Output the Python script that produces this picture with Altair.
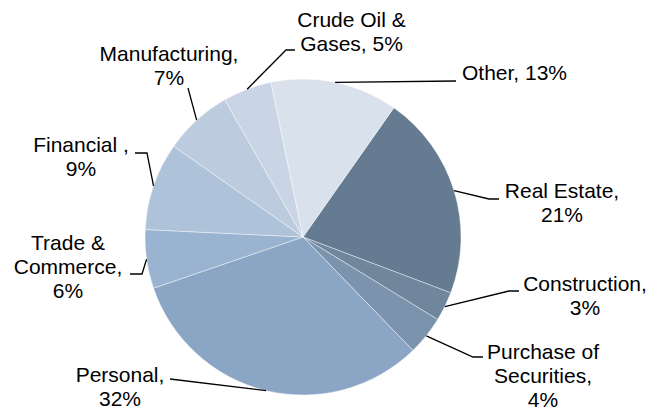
import math
import altair as alt
import pandas as pd

# ---- data ----
categories = ["Real Estate", "Construction", "Purchase of Securities", "Personal",
              "Trade & Commerce", "Financial", "Manufacturing", "Crude Oil & Gases", "Other"]
shares = [21, 3, 4, 32, 6, 9, 7, 5, 13]
label_texts = ["Real Estate,\n21%", "Construction,\n3%", "Purchase of\nSecurities,\n4%",
               "Personal,\n32%", "Trade &\nCommerce,\n6%", "Financial ,\n9%",
               "Manufacturing,\n7%", "Crude Oil &\nGases, 5%", "Other, 13%"]
colors = ["#657B91", "#6F869D", "#7C93AD", "#8BA6C5", "#99B3D1",
          "#AEC2DA", "#BCCBDD", "#C9D5E5", "#D9E1EC"]

# ---- layout (page pixels; y = first text line) ----
W, H = 640, 404
M = 8
CX, CY = 303 - M, 237 - M
R = 158
START_DEG = 35.1
label_pos = [(562, 191.5), (585, 285), (543, 353), (120, 376), (68, 244),
             (81, 146), (169, 54.5), (351.5, 20.5), (514.5, 74)]
leader_pts = [
    [(489, 199), (499, 199)],
    [(509, 291), (519, 291)],
    [(473, 357), (483, 357)],
    [(170, 379)],
    [(142, 274), (130, 274)],
    [(147, 153), (135, 153)],
    [(188, 88)],
    [(286, 50), (295, 50)],
    [(456, 81)],
]

df = pd.DataFrame({"cat": categories, "share": shares, "idx": range(len(categories))})

total = sum(shares)
rows = []
cum = 0
for i, (c, v) in enumerate(zip(categories, shares)):
    mid = math.radians(START_DEG + (cum + v / 2) / total * 360)
    cum += v
    ex, ey = CX + R * math.sin(mid), CY - R * math.cos(mid)
    rows.append({"cat": c, "seq": 0, "px": ex, "py": ey})
    for k, (x, y) in enumerate(leader_pts[i]):
        rows.append({"cat": c, "seq": k + 1, "px": x - M, "py": y - M})
lines_df = pd.DataFrame(rows)

labels_df = pd.DataFrame({
    "cat": categories,
    "txt": label_texts,
    "px": [p[0] - M for p in label_pos],
    "py": [p[1] - M for p in label_pos],
})

xs = alt.Scale(domain=[0, W], range=[0, W], zero=False, nice=False)
ys = alt.Scale(domain=[0, H], range=[0, H], zero=False, nice=False)

a0 = math.radians(START_DEG)
arcs = alt.Chart(df).mark_arc(outerRadius=R, stroke="white", strokeWidth=0.6, strokeOpacity=0.7).encode(
    theta=alt.Theta("share:Q", stack=True, scale=alt.Scale(range=[a0, a0 + 2 * math.pi])),
    order=alt.Order("idx:Q"),
    color=alt.Color("cat:N", scale=alt.Scale(domain=categories, range=colors), legend=None),
    x=alt.value(CX),
    y=alt.value(CY),
)

leaders = alt.Chart(lines_df).mark_line(color="black", strokeWidth=1.3).encode(
    x=alt.X("px:Q", scale=xs, axis=None),
    y=alt.Y("py:Q", scale=ys, axis=None),
    detail="cat:N",
    order="seq:Q",
)

texts = alt.Chart(labels_df).mark_text(
    font="Liberation Sans", fontSize=21, lineHeight=24, lineBreak="\n",
    align="center", baseline="middle", color="black",
).encode(
    x=alt.X("px:Q", scale=xs, axis=None),
    y=alt.Y("py:Q", scale=ys, axis=None),
    text="txt:N",
)

chart = alt.layer(arcs, leaders, texts).properties(
    width=W, height=H, autosize="none", padding=0
).configure_view(stroke=None)

chart.save("out.html", embed_options={"renderer": "svg", "actions": False})
